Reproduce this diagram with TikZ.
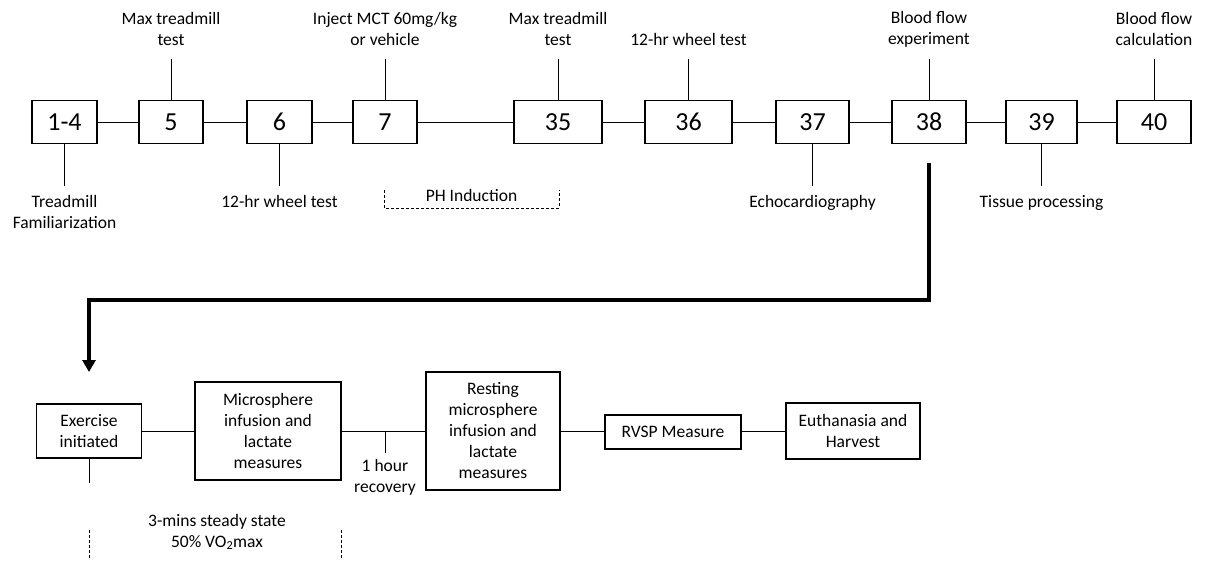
\documentclass[tikz,border=0pt]{standalone}
\usepackage{fontspec}
\setmainfont{Carlito}
\usetikzlibrary{arrows.meta}
\begin{document}
\begin{tikzpicture}[x=1pt,y=-1pt,
  every node/.style={font=\fontsize{17.5}{21}\selectfont, align=center, inner sep=0pt},
  daybox/.style={draw, line width=1.3pt, minimum height=43pt, font=\fontsize{26}{30}\selectfont},
  stepbox/.style={draw, line width=1.3pt},
  conn/.style={line width=1pt},
  toplab/.style={anchor=south, inner ysep=13pt},
  botlab/.style={anchor=north, inner ysep=9pt},
  bracket/.style={line width=0.8pt, dash pattern=on 3pt off 2pt},
  bigarrow/.style={line width=4pt, line join=miter, -{Triangle[width=13pt,length=12pt]}}
]
\useasboundingbox (0,0) rectangle (1205,563);

% top timeline
\node[daybox, minimum width=65pt] (d1)  at (64.5,122) {1-4};
\node[daybox, minimum width=64pt] (d5)  at (171,122)  {5};
\node[daybox, minimum width=65pt] (d6)  at (279.5,122) {6};
\node[daybox, minimum width=64pt] (d7)  at (385,122)  {7};
\node[daybox, minimum width=88pt] (d35) at (558,122)  {35};
\node[daybox, minimum width=87pt] (d36) at (688.5,122) {36};
\node[daybox, minimum width=73pt] (d37) at (812.5,122) {37};
\node[daybox, minimum width=74pt] (d38) at (929,122)  {38};
\node[daybox, minimum width=71pt] (d39) at (1041.5,122) {39};
\node[daybox, minimum width=74pt] (d40) at (1154,122) {40};

\draw[conn] (d1) -- (d5);
\draw[conn] (d5) -- (d6);
\draw[conn] (d6) -- (d7);
\draw[conn] (d7) -- (d35);
\draw[conn] (d35) -- (d36);
\draw[conn] (d36) -- (d37);
\draw[conn] (d37) -- (d38);
\draw[conn] (d38) -- (d39);
\draw[conn] (d39) -- (d40);

% labels above
\node[toplab] (t5)  at (171,59)   {Max treadmill\\test};
\node[toplab] (t7)  at (385,59)   {Inject MCT 60mg/kg\\or vehicle};
\node[toplab] (t35) at (558,59)   {Max treadmill\\test};
\node[toplab] (t36) at (688.5,59) {12-hr wheel test};
\node[toplab, inner ysep=11pt] (t38) at (929,59) {Blood flow\\experiment};
\node[toplab] (t40) at (1154,59)  {Blood flow\\calculation};
\draw[conn] (d5.north) -- (t5.south);
\draw[conn] (d7.north) -- (t7.south);
\draw[conn] (d35.north) -- (t35.south);
\draw[conn] (d36.north) -- (t36.south);
\draw[conn] (d38.north) -- (t38.south);
\draw[conn] (d40.north) -- (t40.south);

% labels below
\node[botlab] (b1)  at (64.5,186)  {Treadmill\\Familiarization};
\node[botlab] (b6)  at (279.5,186) {12-hr wheel test};
\node[botlab] (b37) at (812.5,186) {Echocardiography};
\node[botlab] (b39) at (1041.5,186) {Tissue processing};
\draw[conn] (d1.south) -- (b1.north);
\draw[conn] (d6.south) -- (b6.north);
\draw[conn] (d37.south) -- (b37.north);
\draw[conn] (d39.south) -- (b39.north);

% PH induction bracket
\node (ph) at (471.5,195) {PH Induction};
\draw[bracket] (384,190) -- (384,208) -- (559,208) -- (559,190);

% big arrow
\coordinate (as) at (929,163);
\coordinate (ac) at (89,300);
\coordinate (ae) at (89,372);
\draw[bigarrow] (as) |- (ac) -- (ae);

% bottom row
\node[stepbox, minimum width=105pt, minimum height=54pt] (ex) at (89,431) {Exercise\\initiated};
\node[stepbox, minimum width=146pt, minimum height=98pt] (mic) at (268,431) {Microsphere\\infusion and\\lactate\\measures};
\node[stepbox, minimum width=134pt, minimum height=118pt] (rest) at (493,431) {Resting\\microsphere\\infusion and\\lactate\\measures};
\node[stepbox, minimum width=136pt, minimum height=34pt] (rvsp) at (673,432) {RVSP Measure};
\node[stepbox, minimum width=134pt, minimum height=56pt] (euth) at (853,431) {Euthanasia and\\Harvest};

\draw[conn] (ex) -- (mic);
\draw[conn] (mic) -- (rest);
\draw[conn] (rest) -- (rvsp.west |- rest);
\draw[conn] (rvsp.east |- euth) -- (euth);

% recovery tick
\coordinate (rec) at (385,431);
\node[anchor=north, inner ysep=6pt] (recl) at (385,453) {1 hour\\recovery};
\draw[conn] (rec) -- (recl.north);

% exercise tick
\coordinate (exb) at (89,483);
\draw[conn] (ex.south) -- (exb);

% steady state
\node (ss) at (217,532) {3-mins steady state\\50\% VO\textsubscript{2}max};
\draw[bracket] (89,530) -- (89,558);
\draw[bracket] (341,530) -- (341,558);
\end{tikzpicture}
\end{document}
